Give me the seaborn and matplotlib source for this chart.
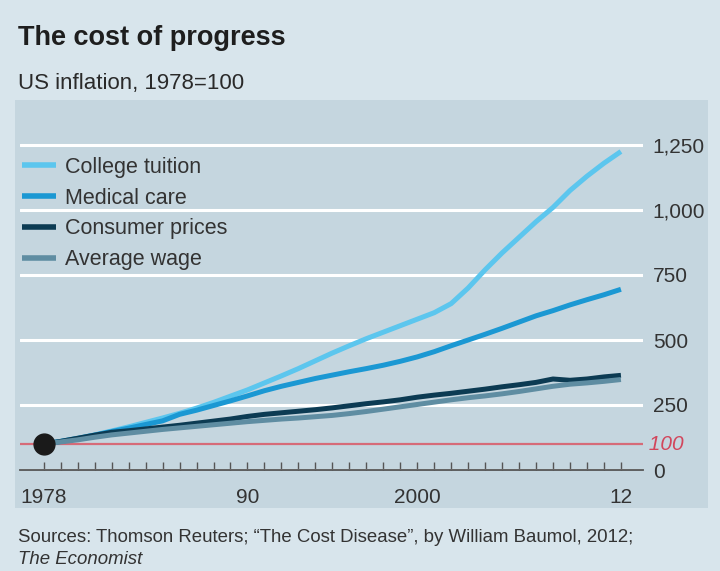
import matplotlib
matplotlib.use("Agg")
import matplotlib.pyplot as plt
from matplotlib.patches import Rectangle
import seaborn as sns
import pandas as pd

# Index values, 1978 = 100
years = list(range(1978, 2013))
college_tuition = [100, 110, 122, 135, 150, 166, 183, 200, 218, 238, 260, 284, 308, 335,
                   362, 390, 420, 450, 478, 505, 530, 555, 580, 605, 640, 700, 770, 835,
                   895, 955, 1010, 1075, 1130, 1180, 1225]
medical_care = [100, 110, 121, 134, 148, 161, 175, 189, 214, 230, 248, 266, 285, 305,
                322, 337, 352, 365, 378, 390, 403, 418, 435, 455, 478, 500, 522, 545,
                569, 593, 613, 635, 655, 674, 695]
consumer_prices = [100, 110, 122, 134, 145, 151, 158, 165, 172, 180, 188, 196, 206, 214,
                   220, 226, 232, 239, 247, 255, 262, 270, 280, 288, 295, 303, 311, 320,
                   328, 337, 350, 345, 350, 358, 364]
average_wage = [100, 108, 116, 126, 135, 142, 149, 156, 162, 168, 174, 180, 186, 191,
                196, 200, 205, 210, 217, 225, 234, 243, 252, 261, 270, 278, 285, 293,
                302, 312, 322, 330, 335, 341, 348]

series_names = ["College tuition", "Medical care", "Consumer prices", "Average wage"]
series_colors = ["#5cc6ee", "#1b98d3", "#0c3b53", "#5f8da2"]
y_ticks = [0, 250, 500, 750, 1000, 1250]
y_tick_labels = ["0", "250", "500", "750", "1,000", "1,250"]
x_label_years = {1978: "1978", 1990: "90", 2000: "2000", 2012: "12"}

df = pd.concat([
    pd.DataFrame({"year": years, "index": vals, "series": name})
    for name, vals in zip(series_names, [college_tuition, medical_care,
                                         consumer_prices, average_wage])
])

sns.set_theme(style="white")
FONT = ["Liberation Sans", "DejaVu Sans"]
plt.rcParams["font.family"] = FONT

W, H = 720, 571
fig = plt.figure(figsize=(W / 100, H / 100), dpi=100, facecolor="#d8e5ec")

# darker chart panel, behind the axes
fig.patches.append(Rectangle((15 / W, 1 - 508 / H), (708 - 15) / W, (508 - 100) / H,
                             transform=fig.transFigure, facecolor="#c5d6df",
                             edgecolor="none", zorder=-1))

ax_left, ax_right = 20 / W, 643 / W
ax_bottom = 1 - 470 / H
ax_top = 1 - 106 / H
ax = fig.add_axes([ax_left, ax_bottom, ax_right - ax_left, ax_top - ax_bottom])
ax.set_zorder(2)
ax.set_facecolor("none")

sns.lineplot(data=df, x="year", y="index", hue="series", hue_order=series_names,
             palette=series_colors, linewidth=3.6, ax=ax, legend=True,
             solid_capstyle="butt")

ax.set_xlim(1976.6, 2013.3)
ax.set_ylim(0, 1400)

# baseline at 100 and starting dot
ax.axhline(100, color="#d66b78", lw=1.6, zorder=1)
ax.plot([1978], [100], "o", color="#1a1a1a", markersize=15, zorder=5)

# grid
ax.set_yticks(y_ticks)
ax.set_yticklabels(y_tick_labels)
ax.yaxis.tick_right()
ax.grid(axis="y", color="white", lw=2.2)
ax.grid(axis="x", visible=False)
ax.set_axisbelow(True)
ax.tick_params(axis="y", length=0, pad=7, labelsize=15, labelcolor="#333333")

# one small upward tick per year
ax.set_xticks(years)
ax.set_xticklabels([x_label_years.get(y, "") for y in years])
ax.tick_params(axis="x", bottom=True, direction="in", length=6, width=1.0,
               color="#555555", pad=13, labelsize=15, labelcolor="#333333")

for s in ["top", "left", "right"]:
    ax.spines[s].set_visible(False)
ax.spines["bottom"].set_color("#555555")
ax.spines["bottom"].set_linewidth(1.3)
ax.set_xlabel("")
ax.set_ylabel("")

# red 100 label beside the axis
ax.text(1.0, 100, " 100", transform=ax.get_yaxis_transform(), ha="left",
        va="center", color="#d2465c", fontsize=15, style="italic")

# legend
handles, labels = ax.get_legend_handles_labels()
leg = ax.legend(handles, labels, loc="upper left",
                bbox_to_anchor=(22 / W, 1 - 157 / H), bbox_transform=fig.transFigure,
                frameon=False, fontsize=15.5, handlelength=1.6, handletextpad=0.4,
                labelspacing=0.45, borderpad=0, borderaxespad=0)
for t in leg.get_texts():
    t.set_color("#333333")
for h in leg.get_lines():
    h.set_linewidth(4)

# titles and sources
fig.text(18 / W, 1 - 38 / H, "The cost of progress", fontsize=19.5, fontweight="bold",
         color="#1e1e1e", va="center", ha="left")
fig.text(18 / W, 1 - 84 / H, "US inflation, 1978=100", fontsize=16,
         color="#2a2a2a", va="center", ha="left")
fig.text(18 / W, 1 - 537 / H,
         "Sources: Thomson Reuters; \u201cThe Cost Disease\u201d, by William Baumol, 2012;",
         fontsize=13.4, color="#333333", va="center", ha="left")
fig.text(18 / W, 1 - 559 / H, "The Economist", fontsize=13.4, style="italic",
         color="#333333", va="center", ha="left")

fig.savefig("out.png", dpi=100, facecolor=fig.get_facecolor())
